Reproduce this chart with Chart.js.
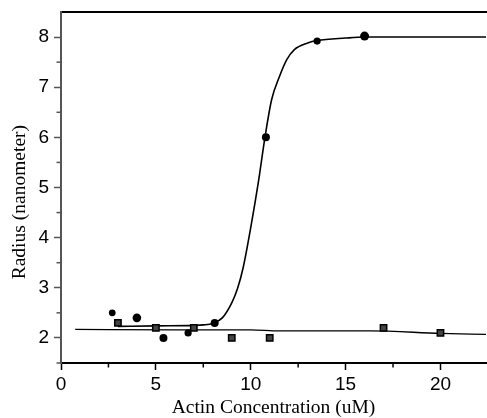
<!DOCTYPE html>
<html lang="en">
<head>
<meta charset="UTF-8">
<title>Radius vs Actin Concentration</title>
<script src="https://cdn.jsdelivr.net/npm/chart.js"></script>
<style>
    body { margin: 0; background: #ffffff; overflow: hidden; }
    /* canvas is 5px wider than the view: chart.js keeps a 5px gap on the right,
       the original plot runs to the edge */
    #wrap { width: 487px; height: 418px; overflow: hidden; }
</style>
</head>
<body>
<div id="wrap"><canvas id="radiusChart" width="492" height="418"></canvas></div>
<script>
// filled circles (measured)
const circleX = [2.7, 4.0, 5.4, 6.7, 8.1, 10.8, 13.5, 16.0];
const circleY = [2.5, 2.4, 2.0, 2.1, 2.3, 6.0, 7.92, 8.02];
const circleSize = [3.4, 4.3, 4, 3.6, 4, 4, 3.6, 4.5];

// half-filled squares (measured)
const squareX = [3, 5, 7, 9, 11, 17, 20];
const squareY = [2.3, 2.2, 2.2, 2.0, 2.0, 2.2, 2.1];

// sigmoid fit curve
const fitSigX = [3.0, 5.0, 7.0, 7.5, 8.0, 8.5, 9.0, 9.3, 9.6, 10.0, 10.4, 10.75, 11.1, 11.5, 11.9, 12.3, 13.0, 13.5, 15.0, 16.0, 22.4];
const fitSigY = [2.23, 2.24, 2.25, 2.26, 2.29, 2.4, 2.7, 2.98, 3.4, 4.2, 5.1, 6.0, 6.75, 7.2, 7.55, 7.75, 7.88, 7.93, 7.98, 8.0, 8.0];

// nearly flat fit curve
const fitFlatX = [0.75, 6.0, 10.0, 11.5, 16.3, 20.0, 22.4];
const fitFlatY = [2.17, 2.16, 2.16, 2.14, 2.14, 2.09, 2.07];

// axis ticks
const xMajor = [0, 5, 10, 15, 20];
const xMinor = [2.5, 7.5, 12.5, 17.5];
const yMajor = [2, 3, 4, 5, 6, 7, 8];
const yMinor = [1.5, 2.5, 3.5, 4.5, 5.5, 6.5, 7.5];

const pts = (xs, ys) => xs.map((v, i) => ({ x: v, y: ys[i] }));

// short minor tick marks drawn from the scales
const minorTicks = {
    id: 'minorTicks',
    afterDraw(chart) {
        const { ctx, scales: { x, y } } = chart;
        ctx.save();
        ctx.lineWidth = 1.5;
        ctx.strokeStyle = '#000';
        xMinor.forEach(v => {
            const px = x.getPixelForValue(v);
            ctx.beginPath();
            ctx.moveTo(px, x.top);
            ctx.lineTo(px, x.top + 4.5);
            ctx.stroke();
        });
        ctx.strokeStyle = '#555';
        yMinor.forEach(v => {
            const py = y.getPixelForValue(v);
            ctx.beginPath();
            ctx.moveTo(y.right, py);
            ctx.lineTo(y.right - 4.5, py);
            ctx.stroke();
        });
        ctx.restore();
    }
};

const tickFont = { family: 'Liberation Sans', size: 19 };
const titleFont = { family: 'Liberation Serif', size: 19.5, lineHeight: 1.0 };

new Chart(document.getElementById('radiusChart'), {
    type: 'scatter',
    data: {
        datasets: [
            {
                data: pts(fitSigX, fitSigY),
                showLine: true,
                borderColor: '#000',
                borderWidth: 1.6,
                pointRadius: 0,
                cubicInterpolationMode: 'monotone',
                order: 3
            },
            {
                data: pts(fitFlatX, fitFlatY),
                showLine: true,
                borderColor: '#000',
                borderWidth: 1.4,
                pointRadius: 0,
                cubicInterpolationMode: 'monotone',
                order: 4
            },
            {
                data: pts(squareX, squareY),
                pointStyle: 'rect',
                pointRadius: 4.5,
                backgroundColor: '#444',
                borderColor: '#000',
                borderWidth: 1.5,
                order: 2
            },
            {
                data: pts(circleX, circleY),
                pointStyle: 'circle',
                pointRadius: circleSize,
                backgroundColor: '#000',
                borderColor: '#000',
                borderWidth: 0,
                order: 1
            }
        ]
    },
    options: {
        responsive: false,
        animation: false,
        layout: { padding: { top: 12, right: 0, left: 0, bottom: 0 } },
        plugins: { legend: { display: false }, tooltip: { enabled: false } },
        scales: {
            x: {
                type: 'linear',
                min: 0,
                max: 22.4,
                afterBuildTicks: s => { s.ticks = xMajor.map(v => ({ value: v })); },
                afterFit: s => { s.height = 55; },
                grid: { drawOnChartArea: false, tickLength: 7, tickColor: '#000', tickWidth: 1.5 },
                border: { color: '#000', width: 2 },
                ticks: {
                    color: '#000',
                    padding: 3,
                    maxRotation: 0,
                    autoSkip: false,
                    font: tickFont
                },
                title: {
                    display: true,
                    text: 'Actin Concentration (uM)',
                    color: '#000',
                    padding: { top: 0, bottom: 0 },
                    font: titleFont
                }
            },
            x2: {
                type: 'linear',
                position: 'top',
                min: 0,
                max: 22.4,
                afterFit: s => { s.height = 0; },
                grid: { drawOnChartArea: false, drawTicks: false },
                border: { color: '#000', width: 2 },
                ticks: { display: false }
            },
            y: {
                type: 'linear',
                min: 1.5,
                max: 8.5,
                afterBuildTicks: s => { s.ticks = yMajor.map(v => ({ value: v })); },
                afterFit: s => { s.width = 61; s.paddingTop = 0; s.paddingBottom = 0; },
                grid: { drawOnChartArea: false, tickLength: 7, tickColor: '#555', tickWidth: 1.5 },
                border: { color: '#555', width: 2 },
                ticks: {
                    color: '#000',
                    padding: 5,
                    font: tickFont
                },
                title: {
                    display: true,
                    // trailing spaces push the label a little down the axis, as in the original
                    text: 'Radius (nanometer)      ',
                    color: '#000',
                    padding: { top: 10, bottom: 0 },
                    font: titleFont
                }
            }
        }
    },
    plugins: [minorTicks]
});
</script>
</body>
</html>
